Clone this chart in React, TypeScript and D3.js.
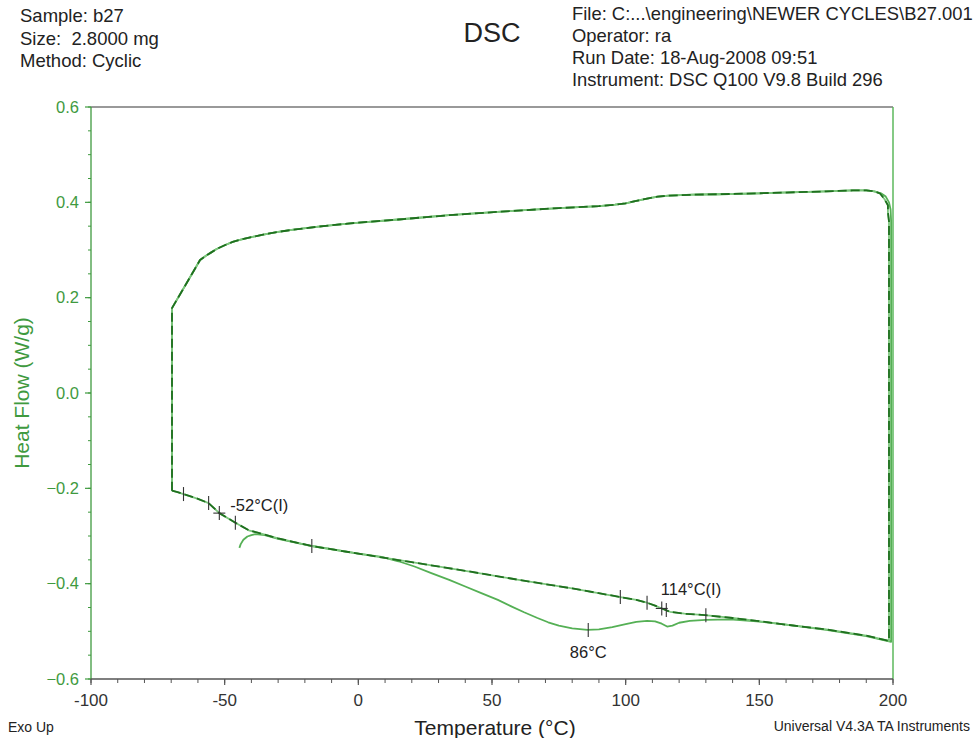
import React from "react";
import * as d3 from "d3";

// ---- data ----
const headerLeft = ["Sample: b27", "Size:  2.8000 mg", "Method: Cyclic"];
const headerRight = [
  "File: C:...\\engineering\\NEWER CYCLES\\B27.001",
  "Operator: ra",
  "Run Date: 18-Aug-2008 09:51",
  "Instrument: DSC Q100 V9.8 Build 296",
];
const xTicks = [-100, -50, 0, 50, 100, 150, 200];
const yTicks = [0.6, 0.4, 0.2, 0.0, -0.2, -0.4, -0.6];

// cooling branch shared shape (from 200 °C down to -70 °C)
const coolT = [199.1, 198.5, 197.3, 195.5, 193, 190, 185, 175, 150, 135, 125, 116, 112, 108, 104, 100, 96, 90, 75, 52, 34, 15, -3, -15, -25, -30, -35, -40, -44, -47, -50, -53, -55, -57, -59.2, -69.7, -69.7, -69.7];
const coolV = [0.385, 0.4, 0.412, 0.419, 0.423, 0.425, 0.425, 0.423, 0.419, 0.417, 0.416, 0.414, 0.412, 0.408, 0.403, 0.398, 0.395, 0.392, 0.388, 0.38, 0.373, 0.364, 0.356, 0.349, 0.342, 0.338, 0.333, 0.327, 0.322, 0.317, 0.31, 0.302, 0.295, 0.288, 0.279, 0.178, 0.0, -0.205];

// cycle 1 heating (solid): melting dip at 86 °C
const heat1T = [-44.5, -44, -43, -41.5, -40, -38.5, -35, -30, -17.4, 0, 8.7, 15, 21, 27.3, 34, 40, 46, 52.2, 57, 62, 67, 71, 75, 80, 85.7, 90, 95, 100, 104, 108, 111, 113.5, 115.5, 117.5, 120, 124, 130, 139, 149, 160, 175, 190, 199.3, 199.3];
const heat1V = [-0.325, -0.317, -0.308, -0.301, -0.298, -0.296, -0.298, -0.306, -0.321, -0.337, -0.344, -0.353, -0.364, -0.378, -0.392, -0.406, -0.42, -0.434, -0.447, -0.46, -0.472, -0.481, -0.488, -0.494, -0.497, -0.496, -0.491, -0.485, -0.48, -0.478, -0.479, -0.484, -0.49, -0.488, -0.482, -0.478, -0.476, -0.475, -0.479, -0.486, -0.497, -0.51, -0.522, 0.36];

// cycle 2 heating (dashed): no melting
const heat2T = [-69.7, -67.6, -65.4, -60, -56, -52, -46, -41, -37, -30, -17.4, 0, 20, 40, 60, 80, 98, 104, 108, 111, 113.5, 116.6, 122, 129.6, 140, 149, 160, 175, 190, 198.5, 198.5];
const heat2V = [-0.205, -0.208, -0.212, -0.222, -0.231, -0.252, -0.272, -0.288, -0.294, -0.305, -0.321, -0.337, -0.355, -0.373, -0.392, -0.41, -0.428, -0.434, -0.44, -0.446, -0.452, -0.459, -0.463, -0.466, -0.472, -0.478, -0.486, -0.496, -0.509, -0.52, 0.36];

// analysis markers
const tickT = [-65.4, -56, -46, -17.4, 86, 98, 108, 115.2, 130];
const tickV = [-0.212, -0.231, -0.272, -0.321, -0.497, -0.428, -0.44, -0.455, -0.466];
const crossT = [-52, 113.5];
const crossV = [-0.252, -0.452];
const annotText = ["-52°C(I)", "114°C(I)", "86°C"];
const annotT = [-52, 113.5, 86];
const annotV = [-0.252, -0.452, -0.497];

const W = 974;
const H = 738;
const L = 91, R = 893, T = 107, B = 679;
const GREEN = "#3f9a3f";
const FONT = "'Liberation Sans', Arial, sans-serif";

export default function App() {
  const x = d3.scaleLinear().domain([-100, 200]).range([L, R]);
  const y = d3.scaleLinear().domain([-0.6, 0.6]).range([B, T]);
  const line = d3
    .line<[number, number]>()
    .x((d) => x(d[0]))
    .y((d) => y(d[1]))
    .curve(d3.curveLinear);
  const cool = coolT.map((t, i) => [t, coolV[i]] as [number, number]);
  const c1 = [
    ...heat1T.map((t, i) => [t, heat1V[i]] as [number, number]),
    ...cool.map((p) => [p[0] > 199.2 ? 199.3 : p[0], p[1]] as [number, number]),
  ];
  const c2 = [
    ...heat2T.map((t, i) => [t, heat2V[i]] as [number, number]),
    ...cool.map((p) => [Math.min(p[0], 198.5) - (p[0] > 195 ? 0.4 : 0), p[1] - (p[0] > 196 ? 0.006 : 0)] as [number, number]),
  ];

  const xMinor = d3.range(-100, 201, 10);
  const yMinor = d3.range(-0.6, 0.6001, 0.05);

  const annotDx = [11, -1, 0];
  const annotDy = [-2, -13, 28];
  const annotAnchor = ["start", "start", "middle"];

  return (
    <svg width={W} height={H} style={{ position: "absolute", left: 0, top: 0, background: "#fff" }} fontFamily={FONT}>
      <rect x={0} y={0} width={W} height={H} fill="#fff" />
      {/* header */}
      {headerLeft.map((s, i) => (
        <text key={"hl" + i} x={20} y={22 + i * 22.5} fontSize={18.5} fill="#222" style={{ whiteSpace: "pre" }}>
          {s}
        </text>
      ))}
      <text x={492} y={42} fontSize={27} fill="#222" textAnchor="middle">DSC</text>
      {headerRight.map((s, i) => (
        <text key={"hr" + i} x={572} y={20 + i * 22} fontSize={18.4} fill="#222">
          {s}
        </text>
      ))}

      {/* frame */}
      <line x1={L} x2={R} y1={T} y2={T} stroke="#777" strokeWidth={1.3} />
      <line x1={R} x2={R} y1={T} y2={B} stroke="#5cb85c" strokeWidth={1.5} />
      <line x1={L} x2={L} y1={T} y2={B} stroke={GREEN} strokeWidth={1.3} />
      <line x1={L} x2={R} y1={B} y2={B} stroke="#555" strokeWidth={1.3} />

      {/* y axis ticks */}
      {yMinor.map((v, i) => (
        <line key={"ym" + i} x1={L - 3} x2={L} y1={y(v)} y2={y(v)} stroke={GREEN} strokeWidth={1} />
      ))}
      {yTicks.map((v, i) => (
        <g key={"yt" + i}>
          <line x1={L - 6} x2={L} y1={y(v)} y2={y(v)} stroke={GREEN} strokeWidth={1.2} />
          <text x={L - 12} y={y(v)} dy="0.35em" textAnchor="end" fontSize={16.5} fill={GREEN}>
            {d3.format(".1f")(v)}
          </text>
        </g>
      ))}
      <text
        transform={`translate(22,${(T + B) / 2}) rotate(-90)`}
        textAnchor="middle"
        fontSize={21}
        fill={GREEN}
        dy="0.35em"
      >
        Heat Flow (W/g)
      </text>

      {/* x axis ticks */}
      {xMinor.map((v, i) => (
        <line key={"xm" + i} x1={x(v)} x2={x(v)} y1={B} y2={B + 4} stroke="#555" strokeWidth={1} />
      ))}
      {xTicks.map((v, i) => (
        <g key={"xt" + i}>
          <line x1={x(v)} x2={x(v)} y1={B} y2={B + 6} stroke="#555" strokeWidth={1.2} />
          <text x={x(v)} y={B + 27} textAnchor="middle" fontSize={17} fill="#333">
            {v}
          </text>
        </g>
      ))}
      <text x={495} y={735} textAnchor="middle" fontSize={21} fill="#222">Temperature (°C)</text>
      <text x={8} y={732} fontSize={14} fill="#222">Exo Up</text>
      <text x={970} y={731} textAnchor="end" fontSize={14} fill="#222">Universal V4.3A TA Instruments</text>

      {/* curves */}
      <path d={line(c1) || ""} fill="none" stroke="#55b055" strokeWidth={1.8} strokeLinejoin="round" />
      <path d={line(c2) || ""} fill="none" stroke="#7cc67c" strokeWidth={1.8} strokeLinejoin="round" />
      <path d={line(c2) || ""} fill="none" stroke="#1f6f1f" strokeWidth={1.8} strokeDasharray="9 4" strokeLinejoin="round" />

      {/* markers */}
      {tickT.map((t, i) => (
        <line key={"tk" + i} x1={x(t)} x2={x(t)} y1={y(tickV[i]) - 7} y2={y(tickV[i]) + 7} stroke="#333" strokeWidth={1.1} />
      ))}
      {crossT.map((t, i) => (
        <g key={"cr" + i}>
          <line x1={x(t)} x2={x(t)} y1={y(crossV[i]) - 7} y2={y(crossV[i]) + 7} stroke="#333" strokeWidth={1.1} />
          <line x1={x(t) - 6} x2={x(t) + 6} y1={y(crossV[i])} y2={y(crossV[i])} stroke="#333" strokeWidth={1.1} />
        </g>
      ))}
      {annotText.map((s, i) => (
        <text
          key={"an" + i}
          x={x(annotT[i]) + annotDx[i]}
          y={y(annotV[i]) + annotDy[i]}
          textAnchor={annotAnchor[i]}
          fontSize={16.5}
          fill="#222"
        >
          {s}
        </text>
      ))}
    </svg>
  );
}
